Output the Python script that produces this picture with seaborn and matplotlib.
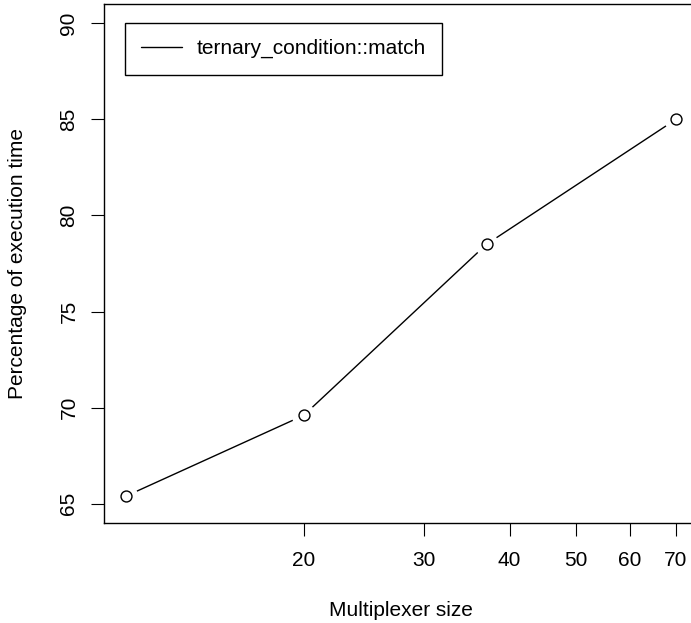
import numpy as np
import pandas as pd
import seaborn as sns
import matplotlib
matplotlib.use("Agg")
import matplotlib.pyplot as plt
from matplotlib.ticker import FixedLocator, NullLocator, NullFormatter

sns.set_style("white")
plt.rcParams['font.family'] = ['Liberation Sans', 'DejaVu Sans']
plt.rcParams['text.color'] = 'black'
plt.rcParams['axes.labelcolor'] = 'black'
plt.rcParams['xtick.color'] = 'black'
plt.rcParams['ytick.color'] = 'black'

# data
mux_size = [11, 20, 37, 70]
pct_time = [65.4, 69.6, 78.5, 85.0]
series_name = "ternary_condition::match"
x_ticks = [20, 30, 40, 50, 60, 70]
y_ticks = [65, 70, 75, 80, 85, 90]

df = pd.DataFrame({"size": mux_size, "pct": pct_time, "series": series_name})

fs = 15
fig = plt.figure(figsize=(6.91, 6.23), dpi=100)
ax = fig.add_axes([104/691, 1 - 523/623, (698 - 104)/691, (523 - 4)/623])

sns.lineplot(data=df, x="size", y="pct", color="black", lw=1, ax=ax,
             label=series_name, zorder=2)
# white halo to give the R type="b" gaps round the points
sns.scatterplot(data=df, x="size", y="pct", s=300, color="white",
                edgecolor="none", ax=ax, zorder=3, legend=False)
sns.scatterplot(data=df, x="size", y="pct", s=62, facecolor="white",
                edgecolor="black", linewidth=1, ax=ax, zorder=4, legend=False)

ax.set_xscale("log")
lo, hi = np.log10(min(mux_size)), np.log10(max(mux_size))
pad = (hi - lo) * 0.04
ax.set_xlim(10 ** (lo - pad), 10 ** (hi + pad))
ax.set_ylim(64, 91)

ax.xaxis.set_major_locator(FixedLocator(x_ticks))
ax.xaxis.set_minor_locator(NullLocator())
ax.xaxis.set_minor_formatter(NullFormatter())
ax.set_xticklabels([str(t) for t in x_ticks])
ax.set_yticks(y_ticks)
ax.set_yticklabels([str(t) for t in y_ticks], rotation=90, va="center")

ax.tick_params(axis="both", direction="out", length=9.4, width=0.8, color="black",
               labelcolor="black", labelsize=fs, bottom=True, left=True)
ax.tick_params(axis="x", pad=11)
ax.tick_params(axis="y", pad=9)

for s in ax.spines.values():
    s.set_color("black")
    s.set_linewidth(1)

ax.set_xlabel("Multiplexer size", fontsize=fs, labelpad=22, color="black")
ax.set_ylabel("Percentage of execution time", fontsize=fs, labelpad=23,
              color="black")

leg = ax.legend(loc="upper left", bbox_to_anchor=(125/691, 1 - 23/623),
                bbox_transform=fig.transFigure, borderaxespad=0,
                fontsize=fs, frameon=True, fancybox=False, edgecolor="black",
                framealpha=1, borderpad=0.78, handlelength=1.95,
                handletextpad=0.72)
leg.get_frame().set_linewidth(1)
for t in leg.get_texts():
    t.set_color("black")

fig.savefig("out.png", dpi=100)
